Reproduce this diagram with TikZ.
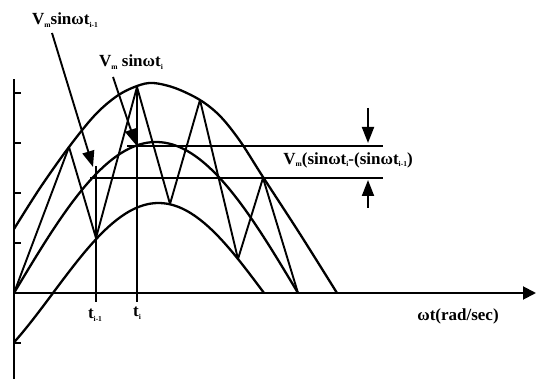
\documentclass[tikz,border=0pt]{standalone}
\usepackage{fontspec}
\setmainfont{Liberation Serif}
\usetikzlibrary{arrows.meta}
\newcommand\sbs[1]{\raisebox{-0.35ex}{\fontsize{7.5}{7.5}\selectfont #1}}
\begin{document}
\begin{tikzpicture}[x=1pt,y=-1pt,line width=1.9pt,line join=round,
  curve/.style={line width=2.3pt},
  lbl/.style={font=\bfseries\fontsize{17}{17}\selectfont,inner sep=0pt},
  bigarrow/.style={-{Triangle[length=16pt,width=12pt]}},
  axisarrow/.style={-{Triangle[length=13pt,width=13pt]}}]
\useasboundingbox (0,0) rectangle (536,379);
% axes
\coordinate (O) at (14,293);
\coordinate (ytop) at (14,79);
\coordinate (ybot) at (14,379);
\coordinate (xend) at (536,293);
\draw (ybot) -- (ytop);
\draw[axisarrow] (O) -- (xend);
\foreach \ty in {93,143,193,243,343} \draw (14,\ty) -- (21,\ty);
% curves
\draw[curve] plot[smooth,tension=0.55] coordinates {(14,229) (40,188) (69,147) (95,115) (117,96) (137,86) (153,83) (175,88) (200,100) (220,116) (240,141) (263,177) (300,234) (337,293)};
\draw[curve] plot[domain=14:298,samples=80] (\x,{293-151*sin((\x-14)/284*180)});
\draw[curve] plot[domain=14:264,samples=80] (\x,{293-90*sin((\x-53)/211*180)});
% zigzag
\coordinate (z1) at (69,147);
\coordinate (z2) at (96,238);
\coordinate (z3) at (137,87);
\coordinate (z4) at (170,204);
\coordinate (z5) at (200,100);
\coordinate (z6) at (238,259);
\coordinate (z7) at (263,178);
\coordinate (z8) at (298,293);
\draw (O) -- (z1) -- (z2) -- (z3) -- (z4) -- (z5) -- (z6) -- (z7) -- (z8);
% vertical lines t_{i-1}, t_i
\coordinate (v1t) at (96,166);
\coordinate (v1b) at (96,302);
\coordinate (v2b) at (137,302);
\draw (v1t) -- (v1b);
\draw (z3) -- (v2b);
% horizontal lines
\coordinate (h1s) at (127,146);
\coordinate (h1e) at (383,146);
\coordinate (h2s) at (90,178);
\coordinate (h2e) at (383,178);
\draw (h1s) -- (h1e);
\draw (h2s) -- (h2e);
% labels
\node[lbl] (L1) at (65,20) {V\sbs{m}sinωt\sbs{i-1}};
\node[lbl] (L2) at (131,62) {V\sbs{m} sinωt\sbs{i}};
\node[lbl] (L3) at (348,160) {V\sbs{m}(sinωt\sbs{i}-(sinωt\sbs{i-1})};
\node[lbl] (Lt1) at (95,315) {t\sbs{i-1}};
\node[lbl] (Lt2) at (137,313) {t\sbs{i}};
\node[lbl] (Lx) at (458,316) {ωt(rad/sec)};
% pointer arrows
\coordinate (a1s) at (52,33);
\coordinate (a1e) at (93,167);
\coordinate (a2s) at (113,77);
\coordinate (a2e) at (136,145);
\draw[bigarrow] (a1s) -- (a1e);
\draw[bigarrow] (a2s) -- (a2e);
\coordinate (d1s) at (368,108);
\coordinate (d1e) at (368,143);
\coordinate (d2s) at (368,208);
\coordinate (d2e) at (368,180);
\draw[bigarrow] (d1s) -- (d1e);
\draw[bigarrow] (d2s) -- (d2e);
\end{tikzpicture}
\end{document}
